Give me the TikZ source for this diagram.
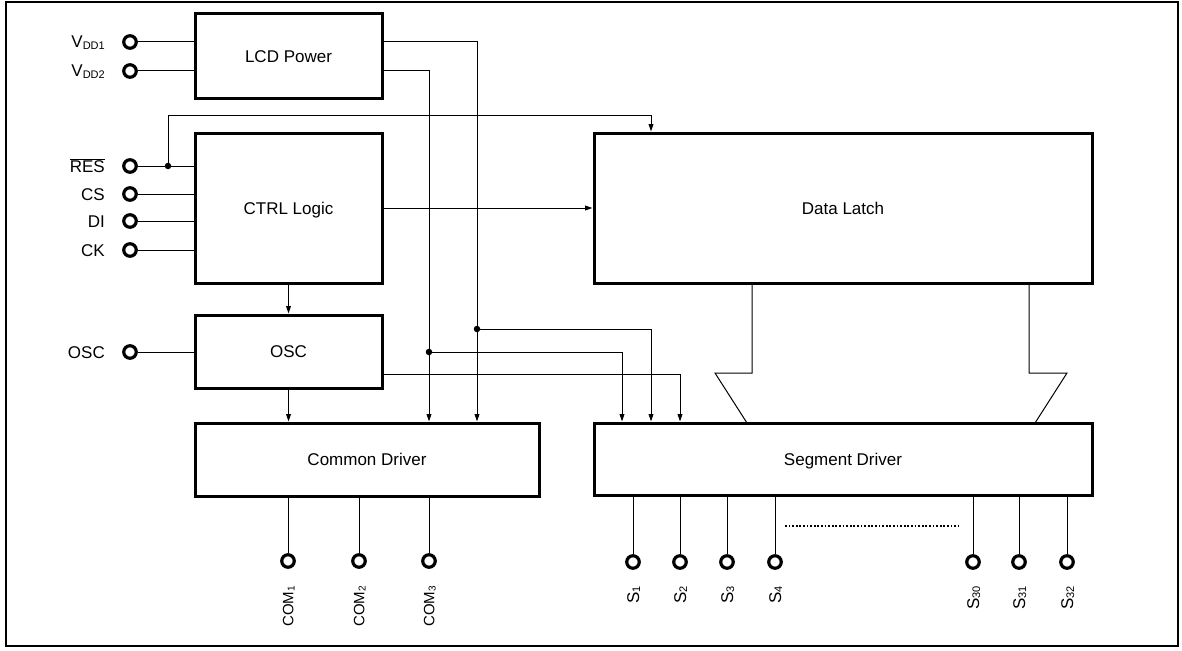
\documentclass[tikz,border=0pt]{standalone}
\usepackage{fontspec}
\setmainfont{Liberation Sans}
\usetikzlibrary{arrows.meta}
\newcommand\subt[1]{\raisebox{-1.2pt}{\fontsize{11}{12}\selectfont #1}}
\newcommand\subs[1]{\raisebox{-1.1pt}{\fontsize{10}{11}\selectfont #1}}
\begin{document}
\begin{tikzpicture}[x=1pt,y=-1pt,
  blk/.style={draw,line width=3pt,inner sep=0pt,font=\fontsize{17}{20}\selectfont,text height=12.2pt,text depth=0pt},
  pinc/.style={circle,draw,line width=3.2pt,minimum size=12.5pt,inner sep=0pt},
  wire/.style={line width=1pt},
  arr/.style={wire,-{Triangle[length=7.5pt,width=4.8pt]}},
  dotn/.style={circle,fill,minimum size=6.5pt,inner sep=0pt},
  lbl/.style={anchor=base east,inner sep=0pt,font=\fontsize{17}{20}\selectfont},
  vlbl/.style={anchor=base east,inner sep=0pt,rotate=90,font=\fontsize{17}{20}\selectfont},
  clbl/.style={anchor=base east,inner sep=0pt,rotate=90,font=\fontsize{15}{18}\selectfont},
]
\useasboundingbox (0,0) rectangle (1182,650);
\draw[line width=2.5pt] (6,2) rectangle (1178,646);

% blocks
\node[blk,minimum width=187pt,minimum height=85pt] (lcd) at (288.5,56.5) {LCD Power};
\node[blk,minimum width=187pt,minimum height=150pt] (ctrl) at (288.5,208) {CTRL Logic};
\node[blk,minimum width=187pt,minimum height=73pt] (osc) at (288.5,351.5) {OSC};
\node[blk,minimum width=344pt,minimum height=73pt] (cd) at (367,459.5) {Common Driver};
\node[blk,minimum width=498pt,minimum height=150pt] (dl) at (843,208) {Data Latch};
\node[blk,minimum width=498pt,minimum height=72pt] (sd) at (843,459) {Segment Driver};

% left pins
\node[pinc] (pvdd1) at (130,42) {};
\node[pinc] (pvdd2) at (130,71) {};
\node[pinc] (pres) at (130,166) {};
\node[pinc] (pcs) at (130,194) {};
\node[pinc] (pdi) at (130,221) {};
\node[pinc] (pck) at (130,250) {};
\node[pinc] (posc) at (130,352) {};

\node[lbl] (lvdd1) at (105,48) {V\subt{DD1}};
\node[lbl] (lvdd2) at (105,77) {V\subt{DD2}};
\node[lbl] (lres) at (105,172) {$\overline{\mbox{RES}}$};
\node[lbl] (lcs) at (105,200) {CS};
\node[lbl] (ldi) at (105,227) {DI};
\node[lbl] (lck) at (105,256) {CK};
\node[lbl] (losc) at (105,358) {OSC};

\draw[wire] (pvdd1.east) -- (pvdd1.east -| lcd.west);
\draw[wire] (pvdd2.east) -- (pvdd2.east -| lcd.west);
\draw[wire] (pres.east) -- (pres.east -| ctrl.west);
\draw[wire] (pcs.east) -- (pcs.east -| ctrl.west);
\draw[wire] (pdi.east) -- (pdi.east -| ctrl.west);
\draw[wire] (pck.east) -- (pck.east -| ctrl.west);
\draw[wire] (posc.east) -- (posc.east -| osc.west);

% LCD power outputs
\coordinate (c1) at (477,42);
\coordinate (c2) at (429,71);
\draw[arr] (c1 -| lcd.east) -- (c1) -- (c1 |- cd.north);
\draw[arr] (c2 -| lcd.east) -- (c2) -- (c2 |- cd.north);

% RES to data latch
\node[dotn] (dres) at (168,166) {};
\coordinate (r1) at (168,116);
\coordinate (r2) at (651,116);
\draw[arr] (dres.center) -- (r1) -- (r2) -- (r2 |- dl.north);

% ctrl connections
\draw[arr] (ctrl.east) -- (dl.west);
\draw[arr] (ctrl.south) -- (osc.north);
\draw[arr] (osc.south) -- (osc.south |- cd.north);

% taps to segment driver
\node[dotn] (da) at (477,329) {};
\node[dotn] (db) at (429,352) {};
\coordinate (ea) at (651,329);
\coordinate (eb) at (622,352);
\coordinate (eo) at (680,374);
\draw[arr] (da.center) -- (ea) -- (ea |- sd.north);
\draw[arr] (db.center) -- (eb) -- (eb |- sd.north);
\draw[arr] (eo -| osc.east) -- (eo) -- (eo |- sd.north);

% wide bus arrow
\coordinate (w1) at (752,373);
\coordinate (w2) at (715,373);
\coordinate (w3) at (747,423);
\coordinate (w4) at (1029,373);
\coordinate (w5) at (1067,373);
\coordinate (w6) at (1035,423);
\draw[wire,line join=miter] (w1 |- dl.south) -- (w1) -- (w2) -- (w3);
\draw[wire,line join=miter] (w4 |- dl.south) -- (w4) -- (w5) -- (w6);

% common pins
\foreach \n/\x in {1/288,2/359,3/429}{
  \node[pinc] (pcom\n) at (\x,561) {};
  \draw[wire] (pcom\n |- cd.south) -- (pcom\n.north);
  \node[clbl] (lcom\n) at (\x+5.4,586) {COM\subs{\n}};
}
% segment pins
\foreach \n/\x in {1/633,2/680,3/727,4/775,30/973,31/1019,32/1067}{
  \node[pinc] (pseg\n) at (\x,562) {};
  \draw[wire] (pseg\n |- sd.south) -- (pseg\n.north);
  \node[vlbl] (lseg\n) at (\x+6,586) {S\subt{\n}};
}
\coordinate (dt1) at (785,526);
\coordinate (dt2) at (959,526);
\draw[line width=2pt,dash pattern=on 1.8pt off 1.8pt] (dt1) -- (dt2);
\end{tikzpicture}
\end{document}
